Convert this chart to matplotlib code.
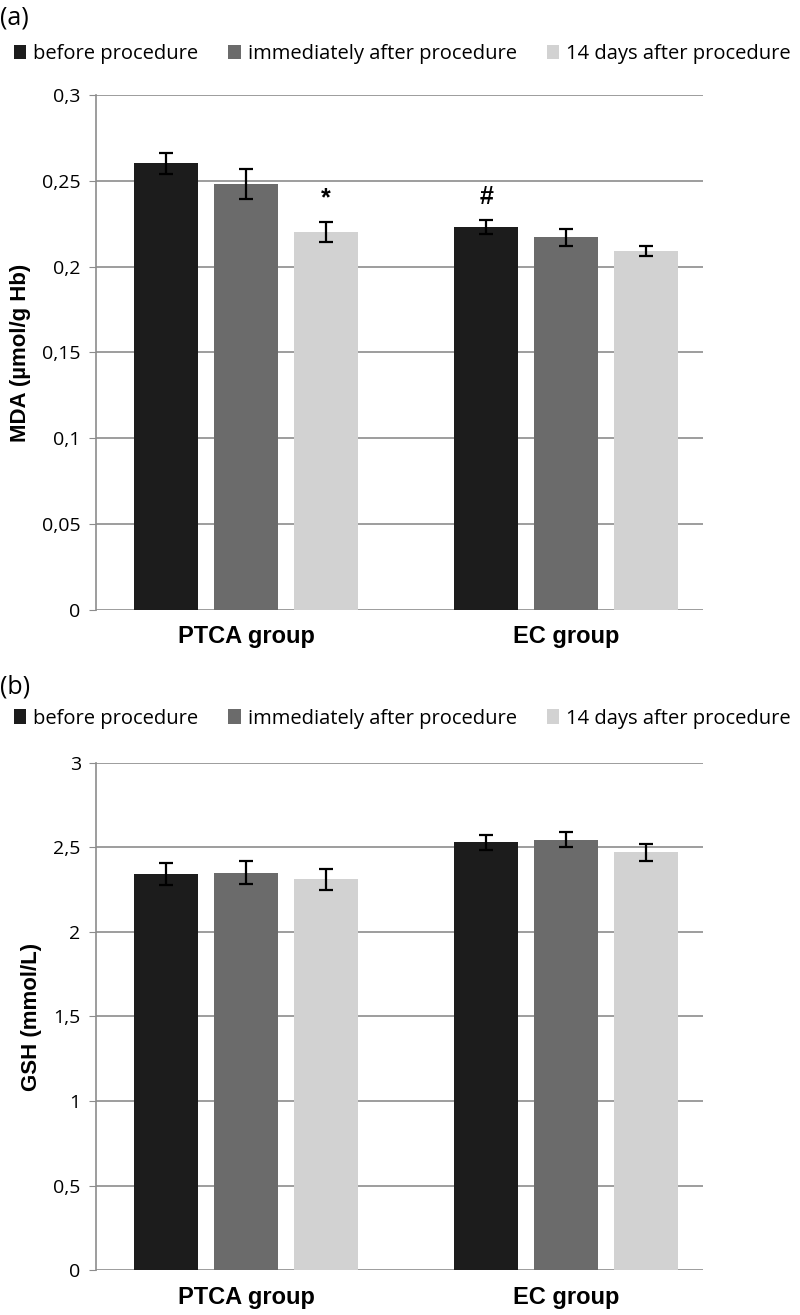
import numpy as np
import matplotlib
matplotlib.use("Agg")
import matplotlib.pyplot as plt

plt.rcParams['font.family'] = ['Open Sans', 'DejaVu Sans']

groups = ["PTCA group", "EC group"]
series = ["before procedure", "immediately after procedure", "14 days after procedure"]
colors = ["#1c1c1c", "#6b6b6b", "#d2d2d2"]

# panel (a) MDA
mda = [[0.260, 0.223], [0.248, 0.217], [0.220, 0.209]]
mda_err = [[0.006, 0.004], [0.009, 0.005], [0.006, 0.003]]
mda_ticks = [0, 0.05, 0.1, 0.15, 0.2, 0.25, 0.3]
mda_ticklabels = ["0", "0,05", "0,1", "0,15", "0,2", "0,25", "0,3"]
mda_marks = [(0, 2, "*"), (1, 0, "#")]

# panel (b) GSH
gsh = [[2.34, 2.53], [2.35, 2.545], [2.31, 2.47]]
gsh_err = [[0.065, 0.045], [0.068, 0.045], [0.06, 0.05]]
gsh_ticks = [0, 0.5, 1, 1.5, 2, 2.5, 3]
gsh_ticklabels = ["0", "0,5", "1", "1,5", "2", "2,5", "3"]


def draw_panel(ax, values, errs, ticks, ticklabels, ylabel, leg_y, marks=()):
    x = np.arange(len(groups))
    step = 0.25
    width = 0.2
    for i in range(len(series)):
        ax.bar(x + (i - 1) * step, values[i], width, color=colors[i],
               label=series[i], zorder=3)
        ax.errorbar(x + (i - 1) * step, values[i], yerr=errs[i], fmt="none",
                    ecolor="black", elinewidth=1.6, capsize=5, capthick=1.6, zorder=4)
    for g, s, m in marks:
        top = values[s][g] + errs[s][g]
        ax.text(g + (s - 1) * step, top + (ticks[-1] * 0.022), m, ha="center",
                va="bottom", fontsize=18, fontweight="bold", family="Liberation Sans")
    ax.set_xlim(-0.469, 1.428)
    ax.set_ylim(ticks[0], ticks[-1])
    ax.set_yticks(ticks)
    ax.set_yticklabels(ticklabels, fontsize=14)
    ax.set_xticks(x)
    ax.set_xticklabels(groups, fontsize=17, fontweight="bold", family="Liberation Sans")
    ax.tick_params(axis="x", length=0, pad=11)
    ax.tick_params(axis="y", length=5, color="#8c8c8c", pad=6)
    ax.yaxis.grid(True, color="#8c8c8c", linewidth=1.2, zorder=0)
    for sp in ["top", "right", "bottom"]:
        ax.spines[sp].set_visible(False)
    ax.spines["left"].set_color("#8c8c8c")
    ax.spines["left"].set_linewidth(1.2)
    ax.set_ylabel(ylabel, fontsize=16, fontweight="bold", family="Liberation Sans",
                  labelpad=8)
    ax.legend(loc="center left", bbox_to_anchor=(-0.135, leg_y), ncol=3, frameon=False,
              fontsize=14.5, handlelength=0.6, handleheight=0.7, handletextpad=0.35,
              columnspacing=1.5, borderaxespad=0, borderpad=0)


fig = plt.figure(figsize=(8, 13.15), dpi=100)
ax1 = fig.add_axes([0.12, 0.536, 0.759, 0.392])
ax2 = fig.add_axes([0.12, 0.034, 0.759, 0.386])

draw_panel(ax1, mda, mda_err, mda_ticks, mda_ticklabels, "MDA (µmol/g Hb)", 1.078, mda_marks)
draw_panel(ax2, gsh, gsh_err, gsh_ticks, gsh_ticklabels, "GSH (mmol/L)", 1.087)

fig.text(0.0, 0.996, "(a)", fontsize=18, va="top", ha="left")
fig.text(0.0, 0.487, "(b)", fontsize=18, va="top", ha="left")

fig.savefig("out.png", dpi=100)
